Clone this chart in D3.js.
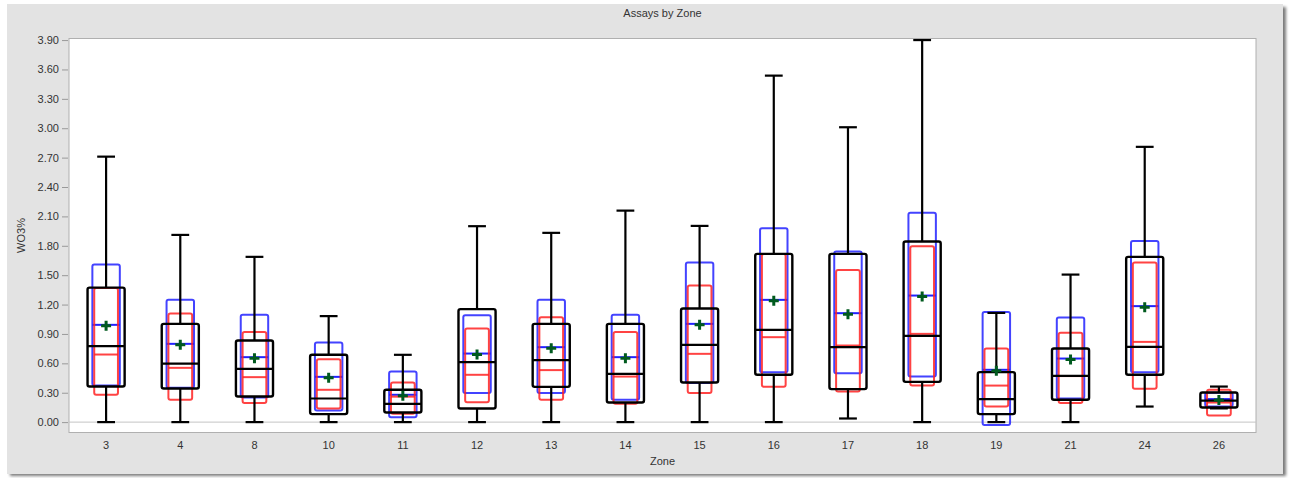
<!DOCTYPE html>
<html><head><meta charset="utf-8">
<script src="https://cdn.jsdelivr.net/npm/d3@7"></script>
<style>body{margin:0;background:#fff;}text{font-family:"Liberation Sans",Arial,sans-serif;}</style>
</head><body>
<svg id="chart" width="1289" height="478"></svg>
<script>
const zones = ["3","4","8","10","11","12","13","14","15","16","17","18","19","21","24","26"];
const whiskerLow  = [0,0,0,0,0,0,0,0,0,0,0.037,0,0,0,0.159,0.14];
const q1          = [0.363,0.343,0.261,0.082,0.098,0.139,0.36,0.2,0.404,0.483,0.337,0.411,0.082,0.228,0.483,0.149];
const median      = [0.775,0.598,0.544,0.241,0.187,0.612,0.633,0.493,0.789,0.942,0.765,0.881,0.235,0.472,0.768,0.22];
const q3          = [1.373,1.003,0.833,0.687,0.33,1.153,1.003,1.003,1.16,1.717,1.717,1.843,0.51,0.751,1.687,0.302];
const whiskerHigh = [2.71,1.911,1.687,1.082,0.687,2.0,1.932,2.159,2.003,3.537,3.01,3.9,1.115,1.506,2.81,0.363];
const mean        = [0.993,0.799,0.663,0.462,0.279,0.70,0.765,0.663,1.003,1.248,1.112,1.292,0.534,0.649,1.184,0.235];
const blueLow     = [0.373,0.35,0.251,0.118,0.05,0.296,0.296,0.228,0.40,0.51,0.5,0.465,-0.03,0.241,0.51,0.16];
const blueHigh    = [1.608,1.248,1.095,0.812,0.516,1.092,1.248,1.095,1.63,1.98,1.741,2.136,1.125,1.067,1.85,0.30];
const redLow      = [0.28,0.228,0.194,0.139,0.085,0.204,0.228,0.187,0.296,0.36,0.312,0.373,0.159,0.194,0.34,0.067];
const redMid      = [0.69,0.554,0.459,0.33,0.26,0.483,0.531,0.465,0.697,0.867,0.782,0.901,0.373,0.47,0.819,0.2];
const redHigh     = [1.37,1.108,0.921,0.643,0.404,0.955,1.071,0.921,1.394,1.717,1.554,1.796,0.751,0.911,1.629,0.33];
const yTicks = [0,0.3,0.6,0.9,1.2,1.5,1.8,2.1,2.4,2.7,3.0,3.3,3.6,3.9];

const data = zones.map((z,i)=>({z, lo:whiskerLow[i], q1:q1[i], med:median[i], q3:q3[i], hi:whiskerHigh[i],
  mean:mean[i], bl:blueLow[i], bh:blueHigh[i], rl:redLow[i], rm:redMid[i], rh:redHigh[i]}));

const svg = d3.select("#chart");
const L=69, R=1256, T=38.5, B=432.5;

// panel with shadow
const defs = svg.append("defs");
const f = defs.append("filter").attr("id","sh").attr("x","-5%").attr("y","-5%").attr("width","110%").attr("height","110%");
f.append("feGaussianBlur").attr("stdDeviation",1.5);
svg.append("rect").attr("x",10).attr("y",7).attr("width",1276).attr("height",469).attr("fill","#7a7a7a").attr("filter","url(#sh)");
svg.append("rect").attr("x",7).attr("y",4).attr("width",1276).attr("height",470).attr("fill","#e3e3e3");
svg.append("rect").attr("x",L).attr("y",T).attr("width",R-L).attr("height",B-T).attr("fill","#fff").attr("stroke","#b0b0b0").attr("stroke-width",1);

const x = d3.scaleBand().domain(zones).range([L,R]).padding(0);
const y = d3.scaleLinear().domain([-0.106,3.916]).range([B,T]);
const bw = x.bandwidth();

// axes
const yAx = svg.append("g").attr("transform",`translate(${L-1},0)`)
  .call(d3.axisLeft(y).tickValues(yTicks).tickFormat(d3.format(".2f")).tickSize(6).tickPadding(3));
yAx.select(".domain").remove();
yAx.selectAll("line").attr("stroke","#999");
yAx.selectAll("text").attr("fill","#333").style("font-size","11px");

const xAx = svg.append("g").attr("transform",`translate(0,${B})`)
  .call(d3.axisBottom(x).tickSize(0).tickPadding(9));
xAx.select(".domain").remove();
xAx.selectAll("text").attr("fill","#333").style("font-size","11px");

// zero line
svg.append("line").attr("x1",L).attr("x2",R).attr("y1",y(0)).attr("y2",y(0)).attr("stroke","#c4c4c4").attr("stroke-width",1);

// labels
svg.append("text").attr("x",(L+R)/2).attr("y",17).attr("text-anchor","middle").attr("fill","#333").style("font-size","11px").text("Assays by Zone");
svg.append("text").attr("x",(L+R)/2).attr("y",465).attr("text-anchor","middle").attr("fill","#333").style("font-size","11px").text("Zone");
svg.append("text").attr("transform",`translate(25,${(T+B)/2}) rotate(-90)`).attr("text-anchor","middle").attr("fill","#333").style("font-size","11px").text("WO3%");

const g = svg.selectAll(".bx").data(data).join("g").attr("class","bx")
  .attr("transform",d=>`translate(${x(d.z)+bw/2},0)`);

const wB = bw*0.37, wR = bw*0.32, wK = bw*0.5, wC = bw*0.24;
// blue box
g.append("rect").attr("x",-wB/2).attr("width",wB).attr("y",d=>y(d.bh)).attr("height",d=>y(d.bl)-y(d.bh))
  .attr("rx",2).attr("fill","none").attr("stroke","#2222ff").attr("stroke-opacity",0.85).attr("stroke-width",2);
g.append("line").attr("x1",-wB/2).attr("x2",wB/2).attr("y1",d=>y(d.mean)).attr("y2",d=>y(d.mean))
  .attr("stroke","#2222ff").attr("stroke-width",2);
// red box
g.append("rect").attr("x",-wR/2).attr("width",wR).attr("y",d=>y(d.rh)).attr("height",d=>y(d.rl)-y(d.rh))
  .attr("rx",2).attr("fill","none").attr("stroke","#ff2222").attr("stroke-opacity",0.85).attr("stroke-width",2);
g.append("line").attr("x1",-wR/2).attr("x2",wR/2).attr("y1",d=>y(d.rm)).attr("y2",d=>y(d.rm))
  .attr("stroke","#ff2222").attr("stroke-opacity",0.85).attr("stroke-width",2);
// whiskers
g.append("line").attr("x1",0).attr("x2",0).attr("y1",d=>y(d.hi)).attr("y2",d=>y(d.q3)).attr("stroke","#000").attr("stroke-width",2.2);
g.append("line").attr("x1",0).attr("x2",0).attr("y1",d=>y(d.lo)).attr("y2",d=>y(d.q1)).attr("stroke","#000").attr("stroke-width",2.2);
g.append("line").attr("x1",-wC/2).attr("x2",wC/2).attr("y1",d=>y(d.hi)).attr("y2",d=>y(d.hi)).attr("stroke","#000").attr("stroke-width",2.2);
g.append("line").attr("x1",-wC/2).attr("x2",wC/2).attr("y1",d=>y(d.lo)).attr("y2",d=>y(d.lo)).attr("stroke","#000").attr("stroke-width",2.2);
// black box
g.append("rect").attr("x",-wK/2).attr("width",wK).attr("y",d=>y(d.q3)).attr("height",d=>y(d.q1)-y(d.q3))
  .attr("rx",2).attr("fill","none").attr("stroke","#000").attr("stroke-width",2.4);
g.append("line").attr("x1",-wK/2).attr("x2",wK/2).attr("y1",d=>y(d.med)).attr("y2",d=>y(d.med)).attr("stroke","#000").attr("stroke-width",2.2);
// mean plus
g.append("path").attr("d",d=>{const cy=y(d.mean)+1;return `M-5,${cy}H5M0,${cy-5}V${cy+5}`;})
  .attr("stroke","#005a1e").attr("stroke-width",3).attr("fill","none");
</script>
</body></html>
